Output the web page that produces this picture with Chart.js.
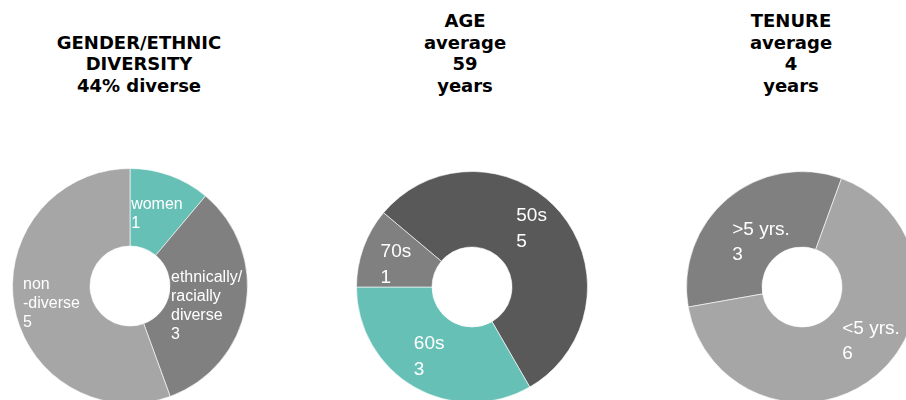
<!DOCTYPE html>
<html>
<head>
<meta charset="utf-8">
<script src="https://cdn.jsdelivr.net/npm/chart.js@4.4.1/dist/chart.umd.min.js"></script>
<style>
  html, body { margin: 0; padding: 0; background: #fff; }
  body { position: relative; width: 906px; height: 400px; overflow: hidden; }
  .titulo {
    position: absolute; top: 0; width: 300px; height: 96px;
    display: flex; flex-direction: column; justify-content: flex-end;
    text-align: center; font-family: "DejaVu Sans", sans-serif; font-weight: bold;
    font-size: 18px; line-height: 21.5px; color: #000;
  }
  .dona { position: absolute; }
</style>
</head>
<body>

<div class="titulo" id="tituloDiversidad" style="left:-11px"></div>
<div class="titulo" id="tituloEdad" style="left:315px"></div>
<div class="titulo" id="tituloAntiguedad" style="left:641px"></div>

<div class="dona" style="left:12px; top:168px"><canvas id="graficoDiversidad" width="236" height="236"></canvas></div>
<div class="dona" style="left:356px; top:171px"><canvas id="graficoEdad" width="232" height="232"></canvas></div>
<div class="dona" style="left:686px; top:171px"><canvas id="graficoAntiguedad" width="232" height="232"></canvas></div>

<script>
// board composition
const diversidadLabels = [['women'], ['ethnically/', 'racially', 'diverse'], ['non', '-diverse']];
const diversidadData = [1, 3, 5];

const edadLabels = ['50s', '60s', '70s'];
const edadData = [5, 3, 1];
const edadPromedio = 59;

const antiguedadLabels = ['>5 yrs.', '<5 yrs.'];
const antiguedadData = [3, 6];
const antiguedadPromedio = 4;

const TEAL = '#66c0b6';
const GRIS_OSCURO = '#595959';
const GRIS = '#808080';
const GRIS_CLARO = '#a6a6a6';

function ponerTitulo(id, lineas){
    document.getElementById(id).innerHTML = lineas.map(l => '<div>' + l + '</div>').join('');
}

const totalDiv = diversidadData.reduce((a, b) => a + b, 0);
const pctDiverso = Math.round((diversidadData[0] + diversidadData[1]) / totalDiv * 100);

ponerTitulo('tituloDiversidad', ['GENDER/ETHNIC', 'DIVERSITY', pctDiverso + '% diverse']);
ponerTitulo('tituloEdad', ['AGE', 'average', edadPromedio, 'years']);
ponerTitulo('tituloAntiguedad', ['TENURE', 'average', antiguedadPromedio, 'years']);

// white name + value text centred on each slice
const etiquetasPorcion = {
    id: 'etiquetasPorcion',
    afterDatasetsDraw(chart, args, opts){
        const ctx = chart.ctx;
        const meta = chart.getDatasetMeta(0);
        const valores = chart.data.datasets[0].data;
        ctx.save();
        ctx.fillStyle = '#ffffff';
        ctx.font = opts.size + 'px "Liberation Sans", Arial, sans-serif';
        ctx.textAlign = 'left';
        ctx.textBaseline = 'middle';
        meta.data.forEach(function(arc, i){
            const p = arc.getProps(['x', 'y', 'startAngle', 'endAngle', 'innerRadius', 'outerRadius'], true);
            const medio = (p.startAngle + p.endAngle) / 2;
            const r = (p.innerRadius + p.outerRadius) / 2;
            const nombre = chart.data.labels[i];
            const lineas = (Array.isArray(nombre) ? nombre : [nombre]).concat(String(valores[i]));
            const ancho = Math.max(...lineas.map(l => ctx.measureText(l).width));
            const ajuste = (opts.ajustes && opts.ajustes[i]) || [0, 0];
            const cx = p.x + Math.cos(medio) * r + ajuste[0];
            const cy = p.y + Math.sin(medio) * r + ajuste[1];
            const arriba = cy - (lineas.length - 1) * opts.lineHeight / 2;
            lineas.forEach(function(l, k){
                ctx.fillText(l, cx - ancho / 2, arriba + k * opts.lineHeight);
            });
        });
        ctx.restore();
    }
};

function graficoDona(id, labels, data, colores, rotacion, etiquetas){
    new Chart(document.getElementById(id), {
        type: 'doughnut',
        plugins: [etiquetasPorcion],
        data: {
            labels: labels,
            datasets: [{
                data: data,
                backgroundColor: colores,
                borderColor: 'rgba(255,255,255,0.6)',
                borderWidth: 1
            }]
        },
        options: {
            responsive: false,
            animation: false,
            cutout: 40,
            rotation: rotacion,
            layout: { padding: 0 },
            plugins: {
                legend: { display: false },
                tooltip: { enabled: false },
                etiquetasPorcion: etiquetas
            }
        }
    });
}

graficoDona('graficoDiversidad', diversidadLabels, diversidadData, [TEAL, GRIS, GRIS_CLARO], 0,
    { size: 16, lineHeight: 19, ajustes: [[0, 2], [-1, 6], [-1, 4]] });

graficoDona('graficoEdad', edadLabels, edadData, [GRIS_OSCURO, TEAL, GRIS], -50,
    { size: 19, lineHeight: 26, ajustes: [[0, -8], [-4, 2], [-3, 4]] });

graficoDona('graficoAntiguedad', antiguedadLabels, antiguedadData, [GRIS, GRIS_CLARO], -100,
    { size: 19, lineHeight: 25, ajustes: [[9, 15], [19, -5]] });
</script>
</body>
</html>
